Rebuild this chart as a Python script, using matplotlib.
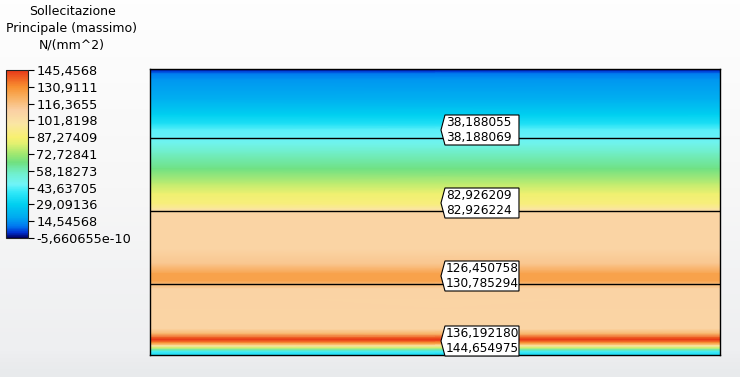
import numpy as np
import matplotlib.pyplot as plt
import matplotlib.transforms as mtransforms
from matplotlib.colors import LinearSegmentedColormap, Normalize
from matplotlib.cm import ScalarMappable
from matplotlib.patches import Polygon

plt.rcParams['font.family'] = ['DejaVu Sans']

# colour scale of the result legend
vmin = -5.660655e-10
vmax = 145.4568
tick_values = [145.4568, 130.9111, 116.3655, 101.8198, 87.27409, 72.72841,
               58.18273, 43.63705, 29.09136, 14.54568, -5.660655e-10]
tick_labels = ["145,4568", "130,9111", "116,3655", "101,8198", "87,27409", "72,72841",
               "58,18273", "43,63705", "29,09136", "14,54568", "-5,660655e-10"]

# stress through the thickness of the section (depth 0 = top face)
depth = [0, 2, 5, 11, 31, 46, 55, 61, 68, 75, 85, 100, 115, 125, 135, 140, 142,
         145, 180, 195, 205, 212, 215, 220, 260, 265, 269, 271, 274, 277, 279,
         281, 283, 286]
stress = [0, 5, 11, 15, 20, 29, 36, 44, 46, 50, 57, 65, 77, 85, 90, 98, 104,
          108, 108, 114, 126, 126, 118, 109, 108, 120, 140, 145, 130, 100, 80,
          60, 42, 34]
thickness = 286

# layer interfaces and probe values (upper / lower)
interfaces = [69, 142, 215]
probe_depth = [69, 142, 215, 280]
probe_top = [38.188055, 82.926209, 126.450758, 136.192180]
probe_bot = [38.188069, 82.926224, 130.785294, 144.654975]

cmap = LinearSegmentedColormap.from_list("fem", [
    (0.00, "#000060"), (0.03, "#0030d0"), (0.07, "#0078f0"), (0.12, "#00a8f0"),
    (0.20, "#00d0f0"), (0.27, "#30e8f8"), (0.32, "#70f4f8"), (0.38, "#70f0d0"),
    (0.45, "#70e080"), (0.50, "#a0e870"), (0.56, "#e0f070"), (0.60, "#f8f070"),
    (0.68, "#fae6a4"), (0.76, "#fad0a4"), (0.84, "#f8b060"), (0.90, "#f89030"),
    (1.00, "#e83818")])
norm = Normalize(vmin, vmax)

fig = plt.figure(figsize=(7.4, 3.77), dpi=100)

# light background gradient
bg = fig.add_axes([0, 0, 1, 1], zorder=-10)
bg_cmap = LinearSegmentedColormap.from_list("bg", [
    (0, "#fefefe"), (0.5, "#f7f7f7"), (0.93, "#eeeff1"), (1, "#e8eaec")])
bg.imshow(np.linspace(0, 1, 100)[:, None], cmap=bg_cmap, aspect="auto",
          extent=[0, 1, 0, 1])
bg.set_axis_off()

# legend
fig.text(72 / 740, 1 - 5 / 377, "Sollecitazione\nPrincipale (massimo)\nN/(mm^2)",
         ha="center", va="top", fontsize=9, linespacing=1.38)
cax = fig.add_axes([6 / 740, 1 - 238 / 377, 22 / 740, 168 / 377])
cb = fig.colorbar(ScalarMappable(norm=norm, cmap=cmap), cax=cax)
cb.set_ticks(tick_values)
cb.set_ticklabels(tick_labels)
cb.ax.tick_params(length=4, width=0.8, labelsize=9.3, pad=2)
cb.outline.set_linewidth(0.8)
cb.outline.set_edgecolor("#222222")

# section
ax = fig.add_axes([150 / 740, 1 - 355 / 377, 570 / 740, 286 / 377])
X, Y = np.meshgrid([0, 1], depth)
C = np.column_stack([stress, stress])
ax.pcolormesh(X, Y, C, shading="gouraud", cmap=cmap, norm=norm)
ax.set_xlim(0, 1)
ax.set_ylim(thickness, 0)
ax.set_xticks([])
ax.set_yticks([])
for s in ax.spines.values():
    s.set_color("black")
    s.set_linewidth(1)
for d in interfaces:
    ax.axhline(d, color="black", lw=1)

blend = mtransforms.blended_transform_factory(ax.transAxes, ax.transData)
box = [(0, 8), (4, 23), (78, 23), (78, -7), (4, -7)]
for d, t, b in zip(probe_depth, probe_top, probe_bot):
    tr = mtransforms.Affine2D() + mtransforms.ScaledTranslation(0.5105, d, blend)
    ax.add_patch(Polygon(box, closed=True, transform=tr, facecolor="white",
                         edgecolor="black", lw=0.8, clip_on=False, zorder=5))
    label = f"{t:.6f}".replace(".", ",") + "\n" + f"{b:.6f}".replace(".", ",")
    ax.text(5, 8, label, transform=tr, ha="left", va="center", fontsize=8.7,
            linespacing=1.28, zorder=6)

fig.savefig("out.png", dpi=100)
